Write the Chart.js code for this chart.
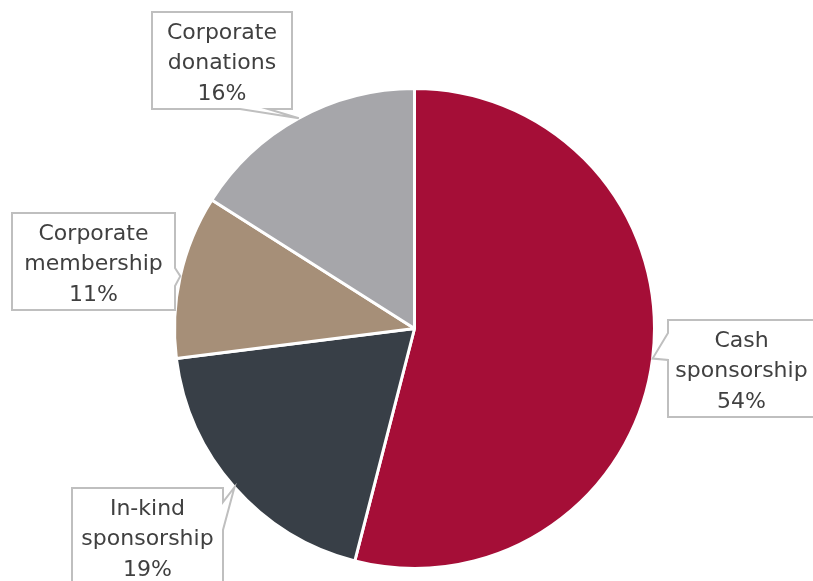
<!DOCTYPE html>
<html>
<head>
<meta charset="utf-8">
<title>Corporate support by type</title>
<script src="https://cdn.jsdelivr.net/npm/chart.js@4/dist/chart.umd.min.js"></script>
<style>
  html, body { margin: 0; padding: 0; background: #ffffff; }
  #wrap { width: 813px; height: 581px; }
</style>
</head>
<body>
<div id="wrap"><canvas id="pie" width="813" height="581"></canvas></div>
<script>
// Share of corporate support, by type (percent)
const categories = ['Cash sponsorship', 'In-kind sponsorship', 'Corporate membership', 'Corporate donations'];
const shares = [54, 19, 11, 16];
const sliceColors = ['#A50E37', '#383F47', '#A68F78', '#A6A6AA'];

// Callout boxes: rectangle plus the edge segment the pointer leaves from
const callouts = [
  { x1: 668, y1: 320, x2: 815, y2: 417, side: 'left',   from: 333, to: 360 },
  { x1: 72,  y1: 488, x2: 223, y2: 590, side: 'right',  from: 502, to: 530 },
  { x1: 12,  y1: 213, x2: 175, y2: 310, side: 'right',  from: 268, to: 286 },
  { x1: 152, y1: 12,  x2: 292, y2: 109, side: 'bottom', from: 240, to: 268 }
];

const calloutPlugin = {
  id: 'calloutLabels',
  afterDatasetsDraw(chart) {
    const ctx = chart.ctx;
    const arcs = chart.getDatasetMeta(0).data;
    arcs.forEach((arc, i) => {
      const c = callouts[i];
      const mid = (arc.startAngle + arc.endAngle) / 2;
      const tip = { x: arc.x + arc.outerRadius * Math.cos(mid), y: arc.y + arc.outerRadius * Math.sin(mid) };
      const pts = [];
      pts.push([c.x1, c.y1]);
      pts.push([c.x2, c.y1]);
      if (c.side === 'right') { pts.push([c.x2, c.from]); pts.push([tip.x, tip.y]); pts.push([c.x2, c.to]); }
      pts.push([c.x2, c.y2]);
      if (c.side === 'bottom') { pts.push([c.to, c.y2]); pts.push([tip.x, tip.y]); pts.push([c.from, c.y2]); }
      pts.push([c.x1, c.y2]);
      if (c.side === 'left') { pts.push([c.x1, c.to]); pts.push([tip.x, tip.y]); pts.push([c.x1, c.from]); }
      ctx.save();
      ctx.beginPath();
      pts.forEach((p, k) => k ? ctx.lineTo(p[0], p[1]) : ctx.moveTo(p[0], p[1]));
      ctx.closePath();
      ctx.fillStyle = '#ffffff';
      ctx.fill();
      ctx.lineWidth = 2;
      ctx.lineJoin = 'miter';
      ctx.strokeStyle = '#BFBFBF';
      ctx.stroke();

      const lines = categories[i].split(' ').concat([shares[i] + '%']);
      ctx.fillStyle = '#404040';
      ctx.font = '22px "DejaVu Sans", sans-serif';
      ctx.textAlign = 'center';
      ctx.textBaseline = 'middle';
      const cx = (c.x1 + c.x2) / 2;
      const top = c.y1 + 21;
      lines.forEach((t, k) => ctx.fillText(t, cx, top + k * 30.5));
      ctx.restore();
    });
  }
};

new Chart(document.getElementById('pie'), {
  type: 'pie',
  data: {
    labels: categories,
    datasets: [{
      data: shares,
      backgroundColor: sliceColors,
      borderColor: '#ffffff',
      borderWidth: 3
    }]
  },
  options: {
    responsive: false,
    animation: false,
    layout: { padding: { left: 173, right: 157, top: 87, bottom: 11 } },
    plugins: { legend: { display: false }, tooltip: { enabled: false } }
  },
  plugins: [calloutPlugin]
});
</script>
</body>
</html>
